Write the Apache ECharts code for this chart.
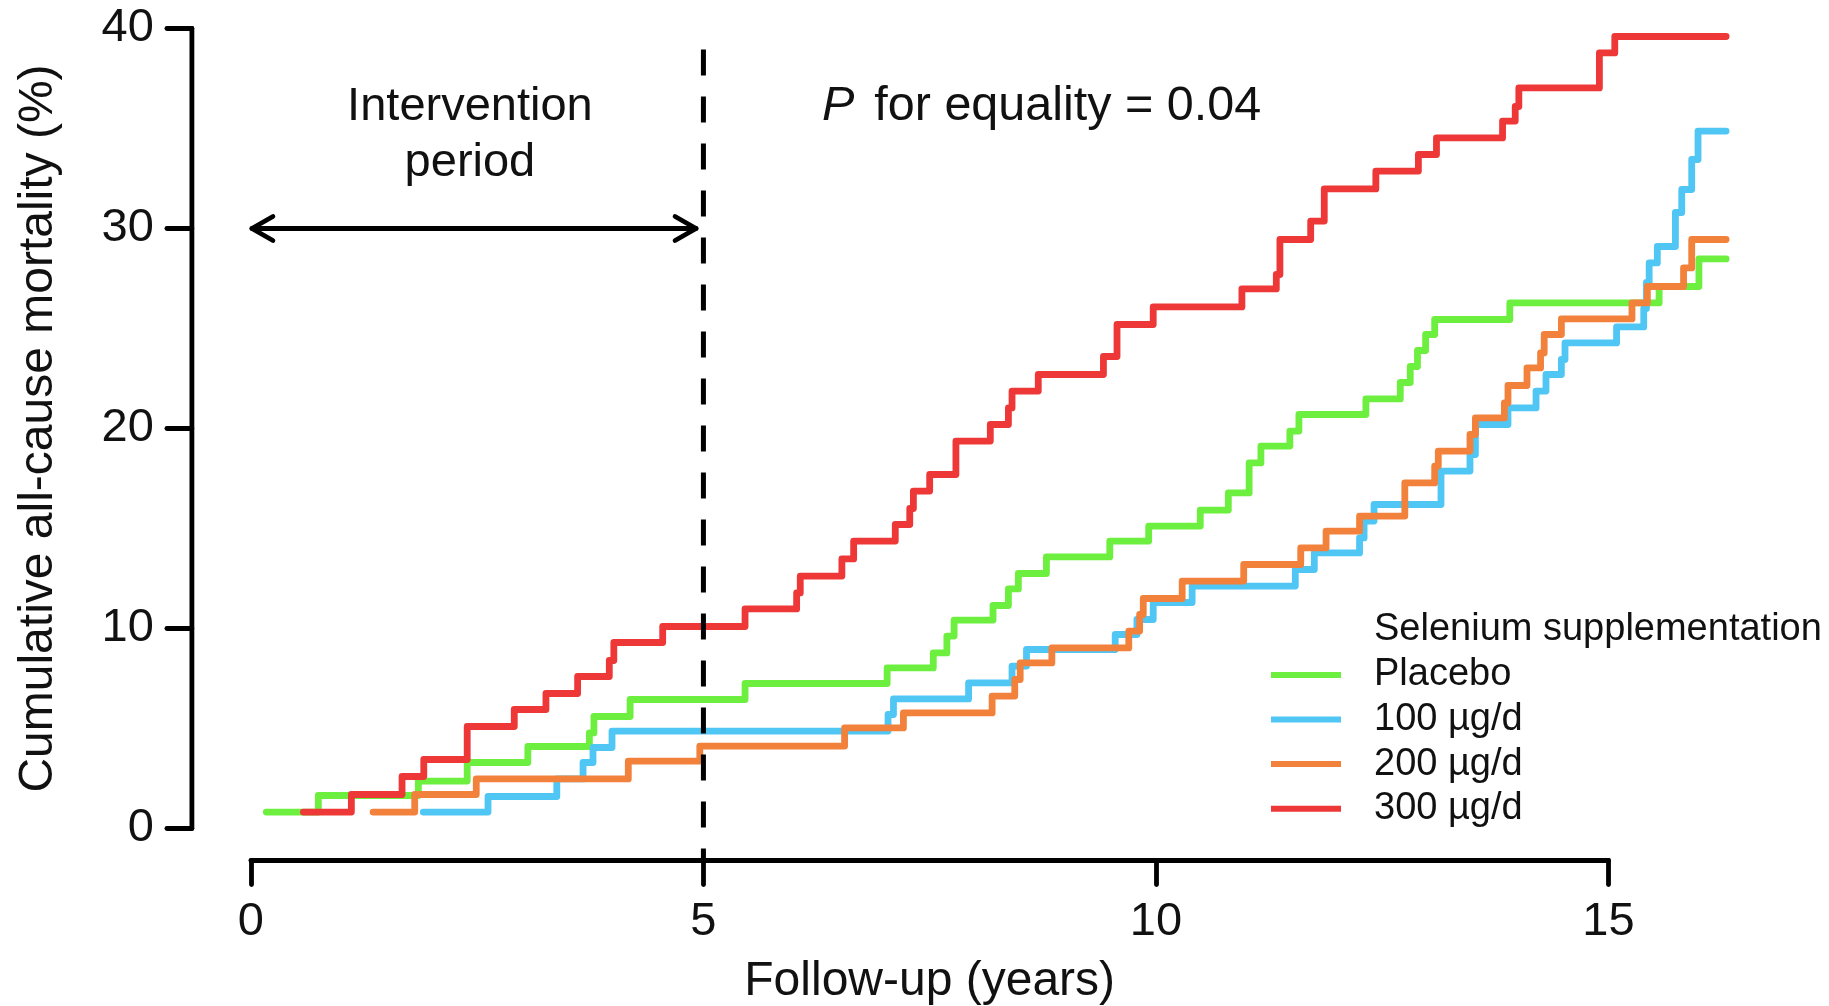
<!DOCTYPE html>
<html>
<head>
<meta charset="utf-8">
<script src="https://cdn.jsdelivr.net/npm/echarts@6/dist/echarts.min.js"></script>
<style>
  html, body { margin: 0; padding: 0; background: #ffffff; }
  #chart { width: 1829px; height: 1006px; }
</style>
</head>
<body>
<div id="chart"></div>
<script>
// Follow-up time (years) at which each cumulative mortality step occurs, and the level (%) reached there
const placeboYears = [0.17, 0.745, 1.85, 2.39, 3.06, 3.74, 3.79, 4.19, 5.46, 7.03, 7.54, 7.69, 7.77, 8.2, 8.37, 8.48, 8.79, 9.49, 9.92, 10.49, 10.8, 11.03, 11.16, 11.48, 11.58, 12.32, 12.7, 12.81, 12.89, 12.98, 13.08, 13.91, 15.56, 16.0, 16.3];
const placeboPct   = [0.82, 1.65, 2.37, 3.3, 4.1, 4.78, 5.6, 6.45, 7.25, 8.03, 8.78, 9.62, 10.42, 11.15, 11.98, 12.75, 13.58, 14.37, 15.12, 15.92, 16.78, 18.28, 19.12, 19.87, 20.7, 21.48, 22.3, 23.1, 23.9, 24.7, 25.45, 26.28, 27.1, 28.48, 28.48];

const dose100Years = [1.905, 2.62, 3.38, 3.67, 3.78, 3.99, 7.04, 7.1, 7.93, 8.41, 8.57, 9.55, 9.79, 9.97, 10.4, 11.54, 11.75, 12.25, 12.3, 12.41, 13.15, 13.47, 13.53, 13.89, 14.2, 14.31, 14.48, 14.52, 15.09, 15.39, 15.42, 15.45, 15.54, 15.74, 15.81, 15.92, 15.99, 16.3];
const dose100Pct   = [0.82, 1.6, 2.48, 3.3, 4.05, 4.87, 5.7, 6.48, 7.28, 8.12, 8.95, 9.7, 10.45, 11.3, 12.12, 12.95, 13.78, 14.53, 15.37, 16.2, 17.87, 18.7, 20.2, 21.03, 21.87, 22.7, 23.45, 24.28, 25.08, 26.0, 27.3, 28.28, 29.1, 30.8, 31.95, 33.45, 34.87, 34.87];

const dose200Years = [1.35, 1.81, 2.49, 4.17, 4.96, 6.56, 7.21, 8.19, 8.44, 8.5, 8.85, 9.7, 9.82, 9.86, 10.29, 10.97, 11.6, 11.88, 12.25, 12.75, 13.08, 13.12, 13.47, 13.53, 13.85, 13.89, 14.1, 14.25, 14.29, 14.48, 15.26, 15.43, 15.83, 15.92, 16.3];
const dose200Pct   = [0.82, 1.7, 2.48, 3.37, 4.12, 5.03, 5.78, 6.62, 7.45, 8.28, 9.03, 9.87, 10.7, 11.5, 12.37, 13.2, 14.03, 14.87, 15.62, 17.28, 18.12, 18.87, 19.7, 20.53, 21.28, 22.15, 23.03, 23.78, 24.7, 25.48, 26.28, 27.1, 28.03, 29.45, 29.45];

const dose300Years = [0.58, 1.11, 1.67, 1.91, 2.39, 2.91, 3.26, 3.61, 3.96, 4.01, 4.55, 5.46, 6.03, 6.07, 6.53, 6.66, 7.12, 7.28, 7.32, 7.5, 7.79, 8.17, 8.37, 8.41, 8.7, 9.42, 9.57, 9.97, 10.95, 11.33, 11.37, 11.71, 11.86, 12.43, 12.9, 13.1, 13.83, 13.97, 14.01, 14.9, 15.07, 16.3];
const dose300Pct   = [0.82, 1.7, 2.6, 3.45, 5.1, 5.95, 6.75, 7.6, 8.4, 9.3, 10.1, 10.98, 11.78, 12.62, 13.48, 14.37, 15.2, 16.0, 16.87, 17.7, 19.37, 20.2, 21.03, 21.87, 22.7, 23.6, 25.2, 26.08, 26.98, 27.7, 29.45, 30.37, 31.98, 32.87, 33.7, 34.53, 35.37, 36.1, 37.03, 38.78, 39.6, 39.6];

const groupNames = ['Placebo', '100 µg/d', '200 µg/d', '300 µg/d'];
const groupYears = [placeboYears, dose100Years, dose200Years, dose300Years];
const groupPct = [placeboPct, dose100Pct, dose200Pct, dose300Pct];

// Tick positions
const xTicks = [0, 5, 10, 15];
const yTicks = [0, 10, 20, 30, 40];

// End of the intervention period and the span of the double arrow marking it
const interventionEnd = 5;
const arrowSpan = [0, 4.93];
const arrowLevel = 30;

// Plot region padded beyond the data, as in a classic base-graphics plot
const xRange = [-0.652, 16.952];
const yRange = [-1.6, 41];

const FONT = '"Liberation Sans", Arial, Helvetica, sans-serif';
const INK = '#111111';
const groupColors = ['#6CEF3E', '#4FC6F4', '#F2813C', '#EE3737'];

const chart = echarts.init(document.getElementById('chart'), null, { renderer: 'canvas' });

const curveSeries = groupNames.map((name, g) => ({
  type: 'line',
  name: name,
  data: groupYears[g].map((t, i) => [t, groupPct[g][i]]),
  step: 'end',
  symbol: 'none',
  showSymbol: false,
  silent: true,
  z: 3 + g,
  itemStyle: { color: groupColors[g] },
  lineStyle: { color: groupColors[g], width: 6.8, cap: 'round', join: 'round' }
}));

// Axis lines spanning only the first to last tick
const axisFrameSeries = {
  type: 'custom',
  name: 'axisFrame',
  coordinateSystem: 'cartesian2d',
  clip: false,
  silent: true,
  z: 9,
  data: [
    [xTicks[0], yRange[0], xTicks[xTicks.length - 1], yRange[0]],
    [xRange[0], yTicks[0], xRange[0], yTicks[yTicks.length - 1]]
  ],
  renderItem: function (params, api) {
    const a = api.coord([api.value(0), api.value(1)]);
    const b = api.coord([api.value(2), api.value(3)]);
    return {
      type: 'line',
      shape: { x1: a[0], y1: a[1], x2: b[0], y2: b[1] },
      style: { stroke: '#000', lineWidth: 4.8, lineCap: 'round' }
    };
  }
};

// Vertical dashed line at the end of the intervention period
const dashedSeries = {
  type: 'line',
  name: 'interventionEnd',
  data: [[interventionEnd, 38.95], [interventionEnd, yRange[0]]],
  symbol: 'none',
  silent: true,
  z: 10,
  lineStyle: { color: '#000', width: 5, type: [26, 21] }
};

// Double-headed arrow spanning the intervention period
const arrowSeries = {
  type: 'custom',
  name: 'arrow',
  coordinateSystem: 'cartesian2d',
  clip: false,
  silent: true,
  z: 10,
  data: [[arrowSpan[0], arrowSpan[1], arrowLevel]],
  renderItem: function (params, api) {
    const a = api.coord([api.value(0), api.value(2)]);
    const b = api.coord([api.value(1), api.value(2)]);
    const len = 22, half = 12;
    const stroke = { stroke: '#000', lineWidth: 4.8, fill: null, lineCap: 'round', lineJoin: 'round' };
    return {
      type: 'group',
      children: [
        { type: 'line', shape: { x1: a[0] + 1, y1: a[1], x2: b[0] - 1, y2: b[1] }, style: stroke },
        { type: 'polyline', shape: { points: [[a[0] + len, a[1] - half], [a[0] + 1, a[1]], [a[0] + len, a[1] + half]] }, style: stroke },
        { type: 'polyline', shape: { points: [[b[0] - len, b[1] - half], [b[0] - 1, b[1]], [b[0] - len, b[1] + half]] }, style: stroke }
      ]
    };
  }
};

// Annotations and axis titles, anchored in data coordinates
const noteTexts = [
  'Intervention\nperiod',
  '{i|P}for equality = 0.04',
  'Follow-up (years)',
  'Cumulative all-cause mortality (%)'
];
const noteSeries = {
  type: 'custom',
  name: 'notes',
  coordinateSystem: 'cartesian2d',
  clip: false,
  silent: true,
  z: 11,
  data: [[2.42, 34.65, 0], [6.31, 36.1, 1], [7.5, -7.68, 2], [-2.34, 20, 3]],
  renderItem: function (params, api) {
    const p = api.coord([api.value(0), api.value(1)]);
    const idx = api.value(2);
    const size = idx === 1 ? 48.5 : (idx === 0 ? 47 : 48);
    return {
      type: 'text',
      x: p[0],
      y: p[1],
      rotation: idx === 3 ? Math.PI / 2 : 0,
      style: {
        text: noteTexts[idx],
        fontSize: size,
        fontFamily: FONT,
        fill: INK,
        align: idx === 1 ? 'left' : 'center',
        verticalAlign: 'middle',
        lineHeight: 56,
        rich: { i: { fontStyle: 'italic', fontSize: size, fontFamily: FONT, fill: INK, padding: [0, 20, 0, 0] } }
      }
    };
  }
};

const tickLine = { color: '#000', width: 4.8, cap: 'round' };

chart.setOption({
  animation: false,
  backgroundColor: '#ffffff',
  textStyle: { fontFamily: FONT },
  title: {
    text: 'Selenium supplementation',
    left: 1374,
    top: 607,
    padding: 0,
    textStyle: { fontSize: 38, fontWeight: 'normal', color: INK, fontFamily: FONT, lineHeight: 44.6 }
  },
  legend: {
    data: groupNames,
    orient: 'vertical',
    left: 1271,
    top: 652.6,
    padding: 0,
    itemGap: 0,
    itemWidth: 70,
    itemHeight: 6,
    icon: 'rect',
    selectedMode: false,
    textStyle: { fontSize: 38, color: INK, fontFamily: FONT, lineHeight: 44.6, padding: [0, 0, 0, 28] }
  },
  grid: { left: 191.9, right: 43.9, top: 8.5, bottom: 145.5, containLabel: false },
  xAxis: {
    type: 'value',
    position: 'bottom',
    min: xRange[0],
    max: xRange[1],
    axisLine: { show: false, onZero: false },
    axisTick: { show: true, inside: false, length: 24, customValues: xTicks, lineStyle: tickLine },
    axisLabel: { margin: 38, fontSize: 47, color: INK, fontFamily: FONT, customValues: xTicks },
    splitLine: { show: false }
  },
  yAxis: {
    type: 'value',
    position: 'left',
    min: yRange[0],
    max: yRange[1],
    axisLine: { show: false, onZero: false },
    axisTick: { show: true, inside: false, length: 25, customValues: yTicks, lineStyle: tickLine },
    axisLabel: { margin: 38, fontSize: 47, color: INK, fontFamily: FONT, customValues: yTicks },
    splitLine: { show: false }
  },
  series: curveSeries.concat([axisFrameSeries, dashedSeries, arrowSeries, noteSeries])
});
</script>
</body>
</html>
